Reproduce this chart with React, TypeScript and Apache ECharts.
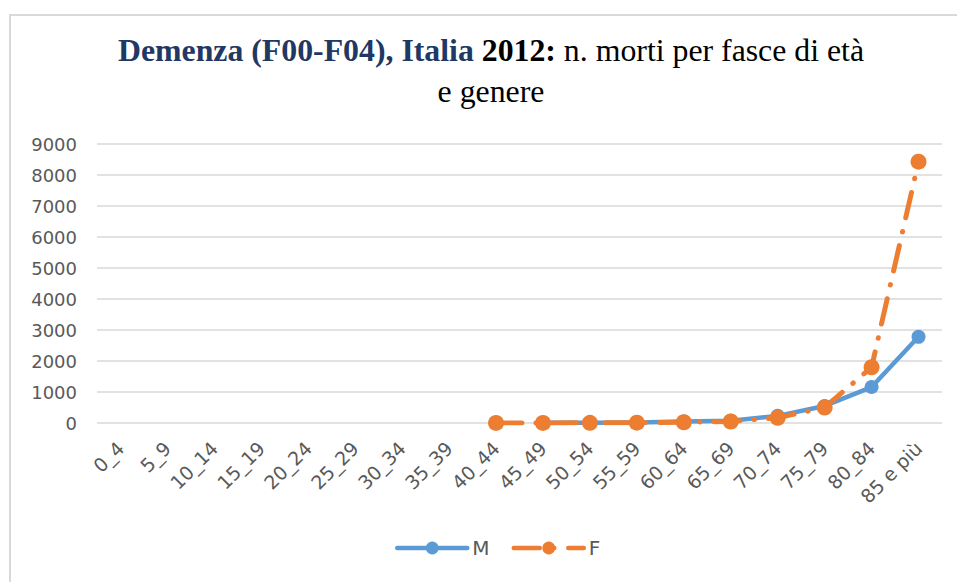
import React, { useEffect, useRef } from "react";
import * as echarts from "echarts";

const categories = [
  "0_4", "5_9", "10_14", "15_19", "20_24", "25_29", "30_34", "35_39", "40_44",
  "45_49", "50_54", "55_59", "60_64", "65_69", "70_74", "75_79", "80_84", "85 e più",
];
const maleValues: (number | null)[] = [
  null, null, null, null, null, null, null, null, null,
  5, 10, 20, 50, 70, 230, 550, 1160, 2780,
];
const femaleValues: (number | null)[] = [
  null, null, null, null, null, null, null, null, 2,
  3, 6, 12, 25, 50, 170, 500, 1800, 8430,
];
const yMax = 9000;
const yInterval = 1000;

export default function App() {
  const ref = useRef<HTMLDivElement>(null);
  useEffect(() => {
    if (!ref.current) return;
    const chart = echarts.init(ref.current, undefined, { renderer: "svg" });
    const labelFont = "DejaVu Sans";
    chart.setOption({
      animation: false,
      backgroundColor: "#ffffff",
      graphic: [
        {
          type: "rect",
          shape: { x: 10, y: 15, width: 960, height: 580 },
          style: { fill: "none", stroke: "#d9d9d9", lineWidth: 2 },
          silent: true,
        },
        {
          type: "text",
          x: 491,
          y: 30,
          style: {
            text:
              "{b|Demenza (F00-F04), Italia\u00a0}{k|2012:\u00a0}{n|n. morti per fasce di età}\n{n|e genere}",
            align: "center",
            verticalAlign: "top",
            rich: {
              b: { fontFamily: "Liberation Serif", fontWeight: "bold", fontSize: 31.8, fill: "#1f3864", lineHeight: 41 },
              k: { fontFamily: "Liberation Serif", fontWeight: "bold", fontSize: 31.8, fill: "#000000", lineHeight: 41 },
              n: { fontFamily: "Liberation Serif", fontWeight: "normal", fontSize: 31.8, fill: "#000000", lineHeight: 41 },
            },
          },
        },
      ],
      grid: { left: 97, right: 15, top: 144, bottom: 159 },
      legend: {
        bottom: 19,
        left: 390,
        itemWidth: 70,
        itemHeight: 16,
        itemGap: 22,
        lineStyle: { width: 4.5 },
        textStyle: { fontFamily: labelFont, fontSize: 20, color: "#595959" },
        data: ["M", "F"],
      },
      xAxis: {
        type: "category",
        data: categories,
        boundaryGap: true,
        axisLine: { show: false },
        axisTick: { show: false },
        axisLabel: {
          rotate: 45,
          interval: 0,
          margin: 22,
          fontFamily: labelFont,
          fontSize: 19,
          color: "#595959",
        },
      },
      yAxis: {
        type: "value",
        min: 0,
        max: yMax,
        interval: yInterval,
        axisLine: { show: false },
        axisTick: { show: false },
        axisLabel: {
          fontFamily: labelFont,
          fontSize: 18,
          color: "#595959",
          margin: 20,
          formatter: (v: number) => String(v),
        },
        splitLine: { lineStyle: { color: "#d9d9d9", width: 1.5 } },
      },
      series: [
        {
          name: "M",
          type: "line",
          data: maleValues,
          symbol: "circle",
          symbolSize: 14,
          itemStyle: { color: "#5b9bd5" },
          lineStyle: { color: "#5b9bd5", width: 4.5, cap: "round", join: "round" },
        },
        {
          name: "F",
          type: "line",
          data: femaleValues,
          symbol: "circle",
          symbolSize: 16,
          itemStyle: { color: "#ed7d31" },
          lineStyle: { color: "#ed7d31", width: 5, type: [26, 14, 0.5, 14], cap: "round", join: "round" },
        },
      ],
    });
    return () => chart.dispose();
  }, []);
  return (
    <div
      ref={ref}
      style={{ position: "absolute", left: 0, top: 0, width: 957, height: 582 }}
    />
  );
}
